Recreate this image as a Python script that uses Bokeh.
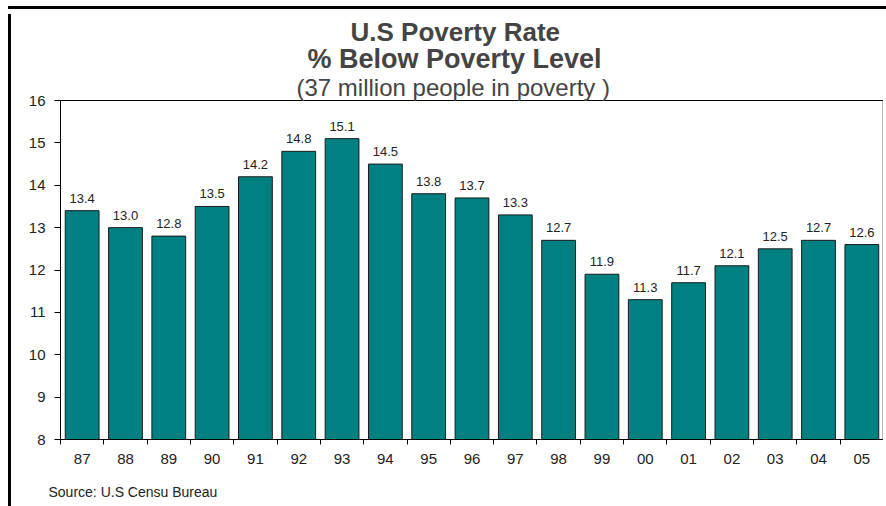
from bokeh.plotting import figure
from bokeh.layouts import column
from bokeh.models import (Range1d, FixedTicker, Title, LabelSet, ColumnDataSource,
                          Span, CustomJSTickFormatter, Div)
from bokeh.core.properties import value
from bokeh.embed import file_html
from bokeh.resources import INLINE

years = ["87", "88", "89", "90", "91", "92", "93", "94", "95", "96",
         "97", "98", "99", "00", "01", "02", "03", "04", "05"]
rates = [13.4, 13.0, 12.8, 13.5, 14.2, 14.8, 15.1, 14.5, 13.8, 13.7,
         13.3, 12.7, 11.9, 11.3, 11.7, 12.1, 12.5, 12.7, 12.6]
y_ticks = [8, 9, 10, 11, 12, 13, 14, 15, 16]

FONT = "Liberation Sans"
BASE = 8
W, H = 875, 500

xc = [i + 0.5 for i in range(len(years))]
src = ColumnDataSource(dict(x=xc, top=rates, lab=[f"{r:.1f}" for r in rates]))

p = figure(width=W, height=H, output_backend="svg", toolbar_location=None,
           x_range=Range1d(0, len(years)), y_range=Range1d(BASE, 16),
           min_border_left=49, min_border_right=3, min_border_bottom=67,
           min_border_top=86)
p.styles = {"margin-left": "8px", "border-left": "3px solid black"}

p.vbar(x="x", top="top", bottom=BASE, width=0.78, source=src,
       fill_color="#008080", line_color="#1a1a1a", line_width=1)

labels = LabelSet(x="x", y="top", text="lab", source=src, text_align="center",
                  text_baseline="alphabetic", y_offset=8,
                  text_font=value(FONT), text_font_size=value("13px"),
                  text_color="#222222")
p.add_layout(labels)

p.xgrid.visible = False
p.ygrid.visible = False
p.outline_line_color = "black"
p.outline_line_width = 1
p.add_layout(Span(location=len(years), dimension="height",
                  line_color="#777777", line_width=2))

xa = p.xaxis[0]
xa.ticker = FixedTicker(ticks=xc, minor_ticks=list(range(len(years) + 1)))
xa.formatter = CustomJSTickFormatter(args=dict(labs=years),
                                     code="return labs[Math.floor(tick)];")
xa.major_tick_out = 0
xa.major_tick_in = 0
xa.minor_tick_out = 5
xa.minor_tick_in = 0
xa.minor_tick_line_color = "black"
xa.axis_line_color = "black"
xa.major_label_standoff = 9
xa.major_label_text_font = FONT
xa.major_label_text_font_size = "15px"
xa.major_label_text_color = "#222222"

ya = p.yaxis[0]
ya.ticker = FixedTicker(ticks=y_ticks)
ya.major_tick_out = 6
ya.major_tick_in = 0
ya.minor_tick_out = 0
ya.minor_tick_in = 0
ya.axis_line_color = "black"
ya.major_label_standoff = 9
ya.major_label_text_font = FONT
ya.major_label_text_font_size = "15px"
ya.major_label_text_color = "#222222"

# titles: p.title is the outermost line, added titles stack outward from the frame
p.title.text = "U.S Poverty Rate"
p.title.align = "left"
p.title.text_font = FONT
p.title.text_font_style = "bold"
p.title.text_font_size = "26px"
p.title.standoff = -4
p.title.offset = 290
p.add_layout(Title(text="(37 million people in poverty )", align="left", text_font=FONT,
                   text_font_style="normal", text_font_size="24px", standoff=0,
                   offset=236), "above")
p.add_layout(Title(text="% Below Poverty Level", align="left", text_font=FONT,
                   text_font_style="bold", text_font_size="27px", standoff=-5,
                   offset=247), "above")

p.add_layout(Title(text="Source: U.S Censu Bureau", align="left", text_font=FONT,
                   text_font_style="normal", text_font_size="14px", offset=-12,
                   text_color="#222222", standoff=30), "below")

top_line = Div(text="", width=878, height=3,
               styles={"margin-left": "8px", "margin-top": "6px",
                       "background-color": "black"})

layout = column(top_line, p, spacing=0)

open("out.html", "w").write(file_html(layout, INLINE))
